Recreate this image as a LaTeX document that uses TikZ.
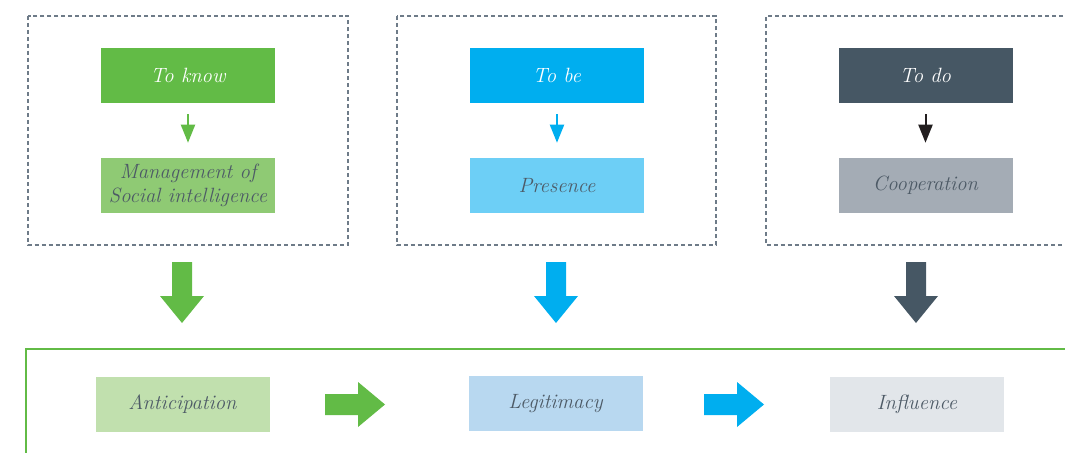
\documentclass[tikz,border=0pt]{standalone}
\usetikzlibrary{arrows.meta}
\definecolor{cgreen}{HTML}{62BB46}
\definecolor{cgreenm}{HTML}{8FCA74}
\definecolor{cgreenl}{HTML}{C1E0AE}
\definecolor{cblue}{HTML}{00AEEF}
\definecolor{cbluem}{HTML}{6DCFF6}
\definecolor{cbluel}{HTML}{B8D8F0}
\definecolor{cdark}{HTML}{465764}
\definecolor{cdarkm}{HTML}{A4ACB5}
\definecolor{cdarkl}{HTML}{E2E6EA}
\definecolor{ctext}{HTML}{4D5A66}
\definecolor{cdash}{HTML}{6E7B88}
\definecolor{csmall}{HTML}{231F20}
\tikzset{
  box/.style={minimum width=130.5pt, minimum height=41.25pt, inner sep=0pt, align=center,
    font=\fontsize{15.5}{17.5}\selectfont\itshape, text=ctext},
  topbox/.style={box, text=white},
  dashbox/.style={draw=cdash, line width=0.9pt, dash pattern=on 3pt off 2.2pt},
  smallarr/.style={line width=1.5pt, -{Triangle[width=10.5pt,length=13.5pt]}, shorten <=8.25pt, shorten >=11.25pt},
  bigdown/.pic={\fill (-10,0) -- (10,0) -- (10,34) -- (22,34) -- (0,61) -- (-22,34) -- (-10,34) -- cycle;},
  bigright/.pic={\fill (0,-10.5) -- (33,-10.5) -- (33,-22.5) -- (60,0) -- (33,22.5) -- (33,10.5) -- (0,10.5) -- cycle;}
}
\begin{document}
\begin{tikzpicture}[x=0.75pt,y=-0.75pt]
\useasboundingbox (0,0) rectangle (1065,453);
% dashed frames
\draw[dashbox] (28,16) rectangle (348,245);
\draw[dashbox] (397,16) rectangle (716,245);
\draw[dashbox] (1070,16) -- (766,16) -- (766,245) -- (1070,245);
% top nodes
\node[topbox, fill=cgreen] (k1) at (188,75.5) {To know};
\node[box, fill=cgreenm] (k2) at (188,185.5) {Management of\\Social intelligence};
\node[topbox, fill=cblue] (b1) at (557,75.5) {To be};
\node[box, fill=cbluem] (b2) at (557,185.5) {Presence};
\node[topbox, fill=cdark] (d1) at (925.5,75.5) {To do};
\node[box, fill=cdarkm] (d2) at (925.5,185.5) {Cooperation};
\draw[smallarr, cgreen] (k1) -- (k2);
\draw[smallarr, cblue] (b1) -- (b2);
\draw[smallarr, csmall] (d1) -- (d2);
% big down arrows
\pic[cgreen] at (182,262) {bigdown};
\pic[cblue] at (556,262) {bigdown};
\pic[cdark] at (916,262) {bigdown};
% green frame
\draw[cgreen, line width=1.1pt] (26,455) -- (26,349) -- (1070,349);
% bottom nodes
\node[box, fill=cgreenl] (a) at (182.5,404) {Anticipation};
\node[box, fill=cbluel] (l) at (555.5,403.5) {Legitimacy};
\node[box, fill=cdarkl] (i) at (917,404) {Influence};
\pic[cgreen] at (325,404.5) {bigright};
\pic[cblue] at (704,404.5) {bigright};
\end{tikzpicture}
\end{document}
